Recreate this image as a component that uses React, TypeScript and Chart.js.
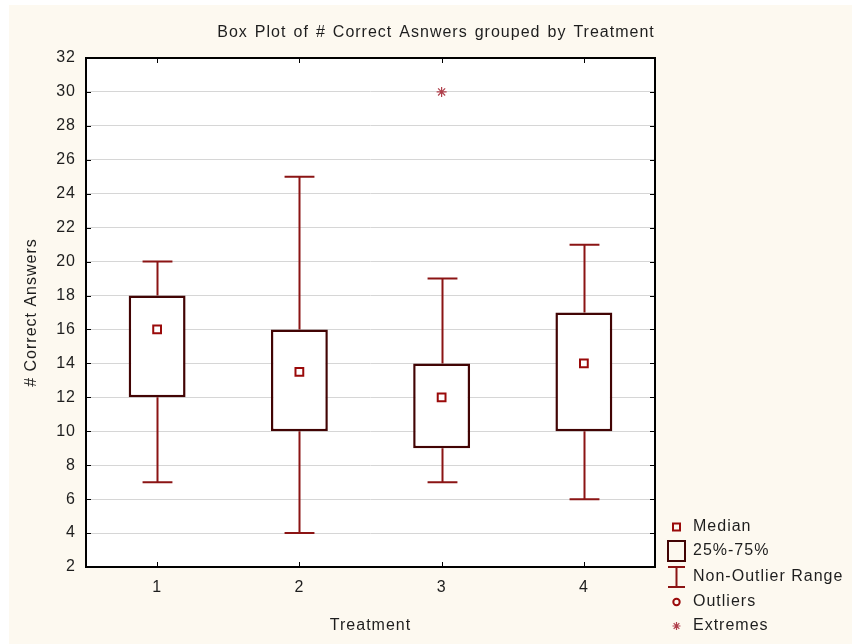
import { useEffect, useRef } from 'react';
import { Chart, registerables } from 'chart.js';

Chart.register(...registerables);

// ---- data ----
const treatments = ['1', '2', '3', '4'];
const whiskerLow = [7, 4, 7, 6];
const quartile1 = [12, 10, 9, 10];
const medians = [16, 13.5, 12, 14];
const quartile3 = [18, 16, 14, 17];
const whiskerHigh = [20, 25, 19, 21];
const extremes: (number | null)[] = [null, null, 30, null];
const outliers: (number | null)[] = [null, null, null, null];

const yMin = 2;
const yMax = 32;
const yStep = 2;

const titleText = 'Box Plot of # Correct Asnwers grouped by Treatment';
const xTitle = 'Treatment';
const yTitle = '# Correct Answers';
const legendLabels = ['Median', '25%-75%', 'Non-Outlier Range', 'Outliers', 'Extremes'];

// ---- styles ----
const FONT_FAMILY = '"Liberation Sans", Arial, sans-serif';
const FONT_SIZE = 16;
const TEXT_COLOR = '#1e1e1e';
const BOX_COLOR = '#420404';
const WHISKER_COLOR = '#8b1414';
const MEDIAN_COLOR = '#9a0a0a';
const EXTREME_COLOR = '#b0404c';
const GRID_COLOR = '#d6d6d6';
const BG = '#fdf9f0';
const SPACING = '1px';

function drawStar(ctx: CanvasRenderingContext2D, x: number, y: number, r: number) {
  ctx.beginPath();
  for (let k = 0; k < 4; k++) {
    const a = (k * Math.PI) / 4;
    ctx.moveTo(x - Math.cos(a) * r, y - Math.sin(a) * r);
    ctx.lineTo(x + Math.cos(a) * r, y + Math.sin(a) * r);
  }
  ctx.stroke();
}

const decorPlugin = {
  id: 'decor',
  beforeDraw(chart: any) {
    const { ctx, chartArea: ca } = chart;
    ctx.save();
    ctx.fillStyle = '#ffffff';
    ctx.fillRect(ca.left, ca.top, ca.right - ca.left, ca.bottom - ca.top);
    ctx.restore();
    ctx.letterSpacing = SPACING;
  },
  beforeDatasetsDraw(chart: any) {
    const { ctx, scales } = chart;
    const x = scales.x;
    const y = scales.y;
    const half = (x.getPixelForValue(1) - x.getPixelForValue(0)) * 0.105;
    ctx.save();
    ctx.strokeStyle = WHISKER_COLOR;
    ctx.lineWidth = 2;
    treatments.forEach((_, i) => {
      const px = Math.round(x.getPixelForValue(i)) + 0.5;
      const yHi = y.getPixelForValue(whiskerHigh[i]);
      const yLo = y.getPixelForValue(whiskerLow[i]);
      ctx.beginPath();
      ctx.moveTo(px, y.getPixelForValue(quartile3[i]));
      ctx.lineTo(px, yHi);
      ctx.moveTo(px - half, yHi);
      ctx.lineTo(px + half, yHi);
      ctx.moveTo(px, y.getPixelForValue(quartile1[i]));
      ctx.lineTo(px, yLo);
      ctx.moveTo(px - half, yLo);
      ctx.lineTo(px + half, yLo);
      ctx.stroke();
    });
    ctx.restore();
  },
  afterDraw(chart: any) {
    const { ctx, chartArea: ca, scales } = chart;
    const x = scales.x;
    const y = scales.y;
    ctx.save();
    ctx.letterSpacing = SPACING;
    // frame
    ctx.strokeStyle = '#000';
    ctx.lineWidth = 2;
    ctx.strokeRect(ca.left, ca.top, ca.right - ca.left, ca.bottom - ca.top);
    // inner ticks
    ctx.lineWidth = 1;
    ctx.beginPath();
    y.ticks.forEach((t: any) => {
      const py = Math.round(y.getPixelForValue(t.value)) + 0.5;
      ctx.moveTo(ca.left, py);
      ctx.lineTo(ca.left + 5, py);
      ctx.moveTo(ca.right, py);
      ctx.lineTo(ca.right - 5, py);
    });
    treatments.forEach((_, i) => {
      const px = Math.round(x.getPixelForValue(i)) + 0.5;
      ctx.moveTo(px, ca.top);
      ctx.lineTo(px, ca.top + 5);
      ctx.moveTo(px, ca.bottom);
      ctx.lineTo(px, ca.bottom - 5);
    });
    ctx.stroke();

    // texts
    ctx.fillStyle = TEXT_COLOR;
    ctx.font = `${FONT_SIZE}px ${FONT_FAMILY}`;
    ctx.textBaseline = 'middle';
    ctx.textAlign = 'center';
    ctx.save();
    (ctx as any).wordSpacing = '1.6px';
    ctx.fillText(titleText, ca.left + 350, ca.top - 25);
    ctx.restore();
    ctx.fillText(xTitle, (ca.left + ca.right) / 2, ca.bottom + 59);
    ctx.save();
    ctx.translate(ca.left - 54, (ca.top + ca.bottom) / 2);
    ctx.rotate(-Math.PI / 2);
    ctx.fillText(yTitle, 0, 0);
    ctx.restore();

    // legend
    const sx = ca.right + 21.5;
    const tx = ca.right + 38;
    const rows = [-40, -16, 10, 35, 59].map((d) => ca.bottom + d);
    ctx.textAlign = 'left';
    legendLabels.forEach((lab, i) => ctx.fillText(lab, tx, rows[i]));
    // median
    ctx.lineWidth = 2;
    ctx.strokeStyle = MEDIAN_COLOR;
    ctx.strokeRect(sx - 3.5, rows[0] - 3.5, 7, 7);
    // box
    ctx.strokeStyle = BOX_COLOR;
    ctx.strokeRect(sx - 8.5, rows[1] - 10, 17, 20);
    // whisker
    ctx.strokeStyle = WHISKER_COLOR;
    ctx.beginPath();
    ctx.moveTo(sx, rows[2] - 10);
    ctx.lineTo(sx, rows[2] + 10);
    ctx.moveTo(sx - 8.5, rows[2] - 10);
    ctx.lineTo(sx + 8.5, rows[2] - 10);
    ctx.moveTo(sx - 8.5, rows[2] + 10);
    ctx.lineTo(sx + 8.5, rows[2] + 10);
    ctx.stroke();
    // outlier
    ctx.strokeStyle = MEDIAN_COLOR;
    ctx.beginPath();
    ctx.arc(sx, rows[3], 3.2, 0, Math.PI * 2);
    ctx.stroke();
    // extreme
    ctx.strokeStyle = EXTREME_COLOR;
    ctx.lineWidth = 1.2;
    drawStar(ctx, sx, rows[4], 4);
    ctx.restore();
  },
};

export default function App() {
  const ref = useRef<HTMLCanvasElement | null>(null);
  useEffect(() => {
    if (!ref.current) return;
    const chart = new Chart(ref.current, {
      type: 'bar',
      data: {
        labels: treatments,
        datasets: [
          {
            type: 'bar',
            label: '25%-75%',
            data: treatments.map((_, i) => [quartile1[i], quartile3[i]]) as any,
            backgroundColor: '#ffffff',
            borderColor: BOX_COLOR,
            borderWidth: 2.5,
            borderSkipped: false,
            barPercentage: 0.4,
            categoryPercentage: 1,
            order: 3,
          },
          {
            type: 'line',
            label: 'Median',
            data: medians,
            showLine: false,
            pointStyle: 'rect',
            pointRadius: 5.5,
            pointBorderWidth: 2,
            pointBorderColor: MEDIAN_COLOR,
            pointBackgroundColor: '#ffffff',
            order: 1,
          } as any,
          {
            type: 'line',
            label: 'Outliers',
            data: outliers,
            showLine: false,
            pointStyle: 'circle',
            pointRadius: 3.2,
            pointBorderWidth: 2,
            pointBorderColor: MEDIAN_COLOR,
            pointBackgroundColor: '#ffffff',
            order: 1,
          } as any,
          {
            type: 'line',
            label: 'Extremes',
            data: extremes,
            showLine: false,
            pointStyle: 'star',
            pointRadius: 5,
            pointBorderWidth: 1.2,
            pointBorderColor: EXTREME_COLOR,
            order: 1,
          } as any,
        ],
      },
      options: {
        animation: false,
        responsive: false,
        events: [],
        layout: { padding: { left: 0, top: 53, right: 197, bottom: 0 } },
        plugins: {
          legend: { display: false },
          title: { display: false },
          tooltip: { enabled: false },
        },
        scales: {
          x: {
            type: 'category',
            offset: true,
            grid: { display: false, drawTicks: false },
            border: { display: false },
            ticks: {
              color: TEXT_COLOR,
              font: { family: FONT_FAMILY, size: FONT_SIZE },
              padding: 11,
              maxRotation: 0,
            },
            afterFit: (s: any) => {
              s.height = 77;
            },
          },
          y: {
            type: 'linear',
            min: yMin,
            max: yMax,
            grid: { color: GRID_COLOR, lineWidth: 1, drawTicks: false },
            border: { display: false },
            ticks: {
              stepSize: yStep,
              color: TEXT_COLOR,
              font: { family: FONT_FAMILY, size: FONT_SIZE },
              padding: 10,
            },
            afterFit: (s: any) => {
              s.width = 77;
            },
          },
        },
      },
      plugins: [decorPlugin],
    });
    return () => chart.destroy();
  }, []);

  return (
    <div style={{ position: 'fixed', left: 9, top: 5, width: 843, height: 639, background: BG }}>
      <canvas ref={ref} width={843} height={639} style={{ display: 'block' }} />
    </div>
  );
}
